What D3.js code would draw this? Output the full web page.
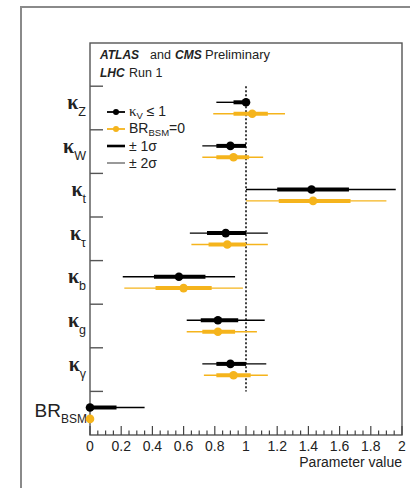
<!DOCTYPE html>
<html><head><meta charset="utf-8">
<script src="https://cdn.jsdelivr.net/npm/d3@7"></script>
<style>body{margin:0;background:#fff;} svg{display:block;}</style>
</head><body>
<script>
// ---- data ----
const params = ["kZ","kW","kt","ktau","kb","kg","kgamma","BRBSM"];
const labelMain = ["κ","κ","κ","κ","κ","κ","κ","BR"];
const labelSub  = ["Z","W","t","τ","b","g","γ","BSM"];
// kappa_V <= 1 fit (black)
const kvCentral = [1.00, 0.90, 1.42, 0.87, 0.57, 0.82, 0.90, 0.00];
const kv1Lo = [0.92, 0.81, 1.20, 0.75, 0.41, 0.71, 0.81, 0.00];
const kv1Hi = [1.00, 1.00, 1.66, 1.00, 0.74, 0.95, 1.00, 0.17];
const kv2Lo = [0.81, 0.72, 1.00, 0.64, 0.21, 0.62, 0.72, 0.00];
const kv2Hi = [1.00, 1.00, 1.96, 1.14, 0.93, 1.12, 1.13, 0.35];
// BR_BSM = 0 fit (orange)
const brCentral = [1.04, 0.92, 1.43, 0.88, 0.60, 0.82, 0.92, 0.00];
const br1Lo = [0.92, 0.81, 1.21, 0.76, 0.42, 0.72, 0.81, 0.00];
const br1Hi = [1.14, 1.02, 1.67, 1.00, 0.78, 0.93, 1.03, 0.00];
const br2Lo = [0.79, 0.72, 1.00, 0.65, 0.22, 0.62, 0.73, 0.00];
const br2Hi = [1.25, 1.11, 1.90, 1.14, 0.98, 1.07, 1.14, 0.00];
const xTicks = [0, 0.2, 0.4, 0.6, 0.8, 1, 1.2, 1.4, 1.6, 1.8, 2];
const xTickLabels = ["0","0.2","0.4","0.6","0.8","1","1.2","1.4","1.6","1.8","2"];
const black = "#000", orange = "#f5b41c";

const W = 410, H = 488;
const SANS = "Liberation Sans, Arial, sans-serif";
const svg = d3.select("body").append("svg").attr("width", W).attr("height", H);
svg.append("rect").attr("width", W).attr("height", H).attr("fill", "#fff");
// outer frame
svg.append("rect").attr("x", 21).attr("y", 7).attr("width", 420).attr("height", 500)
  .attr("fill", "none").attr("stroke", "#8a8a8a").attr("stroke-width", 2);

const pLeft = 90, pRight = 402, pTop = 43, pBottom = 435;
const x = d3.scaleLinear().domain([0, 2]).range([pLeft, pRight]);
const y = d3.scaleBand().domain(params).range([pBottom - 8 * 43.6, pBottom]);
const off = 5.7;

// inner frame
svg.append("rect").attr("x", pLeft).attr("y", pTop).attr("width", pRight - pLeft).attr("height", pBottom - pTop)
  .attr("fill", "none").attr("stroke", "#555").attr("stroke-width", 1.4);

// x-axis ticks (pointing inwards)
const minor = d3.range(0, 2.0001, 0.05);
svg.append("g").selectAll("line").data(minor).join("line")
  .attr("x1", d => x(d)).attr("x2", d => x(d))
  .attr("y1", pBottom).attr("y2", d => Math.abs(d / 0.2 - Math.round(d / 0.2)) < 1e-6 ? pBottom - 9 : pBottom - 4.5)
  .attr("stroke", "#444").attr("stroke-width", 1.2);
svg.append("g").selectAll("text").data(xTicks).join("text")
  .attr("x", d => x(d)).attr("y", 451).attr("text-anchor", "middle")
  .attr("font-family", SANS).attr("font-size", 14)
  .attr("fill", "#222").text((d, i) => xTickLabels[i]);
svg.append("text").attr("x", pRight).attr("y", 467).attr("text-anchor", "end")
  .attr("font-family", SANS).attr("font-size", 14)
  .attr("fill", "#222").text("Parameter value");

// y-axis ticks at category boundaries
svg.append("g").selectAll("line").data(params).join("line")
  .attr("x1", pLeft).attr("x2", pLeft + 13)
  .attr("y1", d => y(d)).attr("y2", d => y(d))
  .attr("stroke", "#555").attr("stroke-width", 1.4);

// y labels
const lab = svg.append("g");
params.forEach((p, i) => {
  const cy = y(p) + y.bandwidth() / 2;
  const t = lab.append("text").attr("x", 86).attr("text-anchor", "end").attr("fill", "#222");
  if (labelMain[i] === "κ") {
    t.attr("y", cy + 1);
    t.append("tspan").attr("font-family", "Liberation Serif, Times New Roman, serif").attr("font-size", 20)
      .attr("font-weight", "bold").text("κ");
    t.append("tspan").attr("font-family", SANS).attr("font-size", 12.5)
      .attr("dy", 7).text(labelSub[i]);
  } else {
    t.attr("x", 87).attr("y", cy + 4);
    t.append("tspan").attr("font-family", SANS).attr("font-size", 19).text(labelMain[i]);
    t.append("tspan").attr("font-family", SANS).attr("font-size", 12)
      .attr("dy", 6).text(labelSub[i]);
  }
});

// SM dotted line at 1 for kappa rows
svg.append("line").attr("x1", x(1)).attr("x2", x(1))
  .attr("y1", y(params[0])).attr("y2", y(params[7]))
  .attr("stroke", "#111").attr("stroke-width", 1.6).attr("stroke-dasharray", "2,2");

// series
function drawSeries(cent, l1, h1, l2, h2, color, dy) {
  const g = svg.append("g");
  params.forEach((p, i) => {
    const cy = y(p) + y.bandwidth() / 2 + dy;
    if (h2[i] !== l2[i]) {
      g.append("line").attr("x1", x(l2[i])).attr("x2", x(h2[i])).attr("y1", cy).attr("y2", cy)
        .attr("stroke", color).attr("stroke-width", 1.4);
      g.append("line").attr("x1", x(l1[i])).attr("x2", x(h1[i])).attr("y1", cy).attr("y2", cy)
        .attr("stroke", color).attr("stroke-width", 4);
    }
    g.append("circle").attr("cx", x(cent[i])).attr("cy", cy).attr("r", 4.3).attr("fill", color);
  });
}
drawSeries(kvCentral, kv1Lo, kv1Hi, kv2Lo, kv2Hi, black, -off);
drawSeries(brCentral, br1Lo, br1Hi, br2Lo, br2Hi, orange, off);

// header
const hdrG = svg.append("g").attr("font-family", SANS).attr("fill", "#222");
hdrG.append("text").attr("x", 100).attr("y", 59).attr("font-size", 12)
  .attr("font-weight", "bold").attr("font-style", "italic").text("ATLAS");
hdrG.append("text").attr("x", 150).attr("y", 59).attr("font-size", 12.5).text("and");
hdrG.append("text").attr("x", 175).attr("y", 59).attr("font-size", 12)
  .attr("font-weight", "bold").attr("font-style", "italic").text("CMS");
hdrG.append("text").attr("x", 205).attr("y", 59).attr("font-size", 13).text("Preliminary");
hdrG.append("text").attr("x", 100).attr("y", 77).attr("font-size", 12)
  .attr("font-weight", "bold").attr("font-style", "italic").text("LHC");
hdrG.append("text").attr("x", 129).attr("y", 77).attr("font-size", 12.5).text("Run 1");

// legend
const lg = svg.append("g").attr("font-family", SANS).attr("fill", "#222");
const ly = [112, 129, 146, 163];
const lx0 = 107, lx1 = 125, tx = 129;
lg.append("line").attr("x1", lx0).attr("x2", lx1).attr("y1", ly[0]).attr("y2", ly[0]).attr("stroke", black).attr("stroke-width", 1.8);
lg.append("circle").attr("cx", (lx0 + lx1) / 2).attr("cy", ly[0]).attr("r", 3).attr("fill", black);
lg.append("line").attr("x1", lx0).attr("x2", lx1).attr("y1", ly[1]).attr("y2", ly[1]).attr("stroke", orange).attr("stroke-width", 1.8);
lg.append("circle").attr("cx", (lx0 + lx1) / 2).attr("cy", ly[1]).attr("r", 3).attr("fill", orange);
lg.append("line").attr("x1", lx0).attr("x2", lx1).attr("y1", ly[2]).attr("y2", ly[2]).attr("stroke", black).attr("stroke-width", 2.6);
lg.append("line").attr("x1", lx0).attr("x2", lx1).attr("y1", ly[3]).attr("y2", ly[3]).attr("stroke", "#555").attr("stroke-width", 1.2);

const t1 = lg.append("text").attr("x", tx).attr("y", ly[0] + 4).attr("font-size", 14);
t1.append("tspan").attr("font-family", "Liberation Serif, serif").attr("font-size", 15).text("κ");
t1.append("tspan").attr("font-size", 9.5).attr("dy", 2.5).text("V");
t1.append("tspan").attr("dy", -2.5).text(" ≤ 1");
const t2 = lg.append("text").attr("x", tx).attr("y", ly[1] + 4).attr("font-size", 14);
t2.append("tspan").text("BR");
t2.append("tspan").attr("font-size", 9.5).attr("dy", 2.5).text("BSM");
t2.append("tspan").attr("dy", -2.5).text("=0");
lg.append("text").attr("x", tx).attr("y", ly[2] + 5).attr("font-size", 14).text("± 1σ");
lg.append("text").attr("x", tx).attr("y", ly[3] + 5).attr("font-size", 14).text("± 2σ");
</script>
</body></html>
